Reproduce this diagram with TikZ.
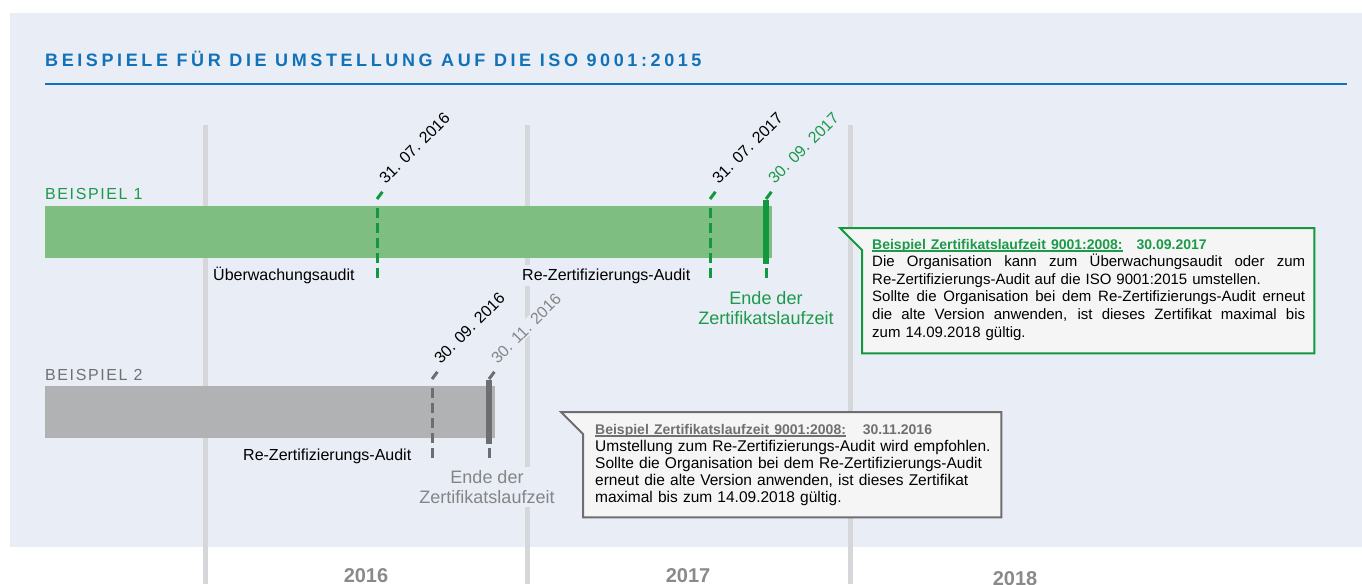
\documentclass[tikz,border=0pt]{standalone}
\usepackage{fontspec}
\setmainfont{Liberation Sans}
\newfontfamily\spacedfont[LetterSpace=10]{Liberation Sans}
\newfontfamily\titlefont[LetterSpace=20]{Liberation Sans}
\usetikzlibrary{calc}

\definecolor{panel}{HTML}{E9EDF6}
\definecolor{titleblue}{HTML}{1272B9}
\definecolor{yeargray}{HTML}{D6D7DB}
\definecolor{barone}{HTML}{7FBE81}
\definecolor{darkgreen}{HTML}{13983F}
\definecolor{textgreen}{HTML}{1C9A4A}
\definecolor{bartwo}{HTML}{B1B2B4}
\definecolor{darkgray}{HTML}{6E6E70}
\definecolor{textgray}{HTML}{707072}
\definecolor{lightgray}{HTML}{858587}
\definecolor{boxfill}{HTML}{F5F5F5}
\definecolor{yeartext}{HTML}{8A8A8C}

% underlined heading, justified line
\newcommand{\ulhead}[1]{\setbox0\hbox{#1}\rlap{\rule[-2.5pt]{\wd0}{1.3pt}}\box0}
\newcommand{\justline}[1]{\makebox[433pt][s]{\spaceskip=0pt\xspaceskip=0pt #1}}

\begin{document}
\begin{tikzpicture} [
    x=1pt, y=-1pt,
    yearline/.style  = { draw=yeargray, line width=5pt },
    barbox/.style    = { draw=none, minimum height=52pt, inner sep=0pt, anchor=north west },
    leader/.style    = { draw, line width=3pt, dash pattern=on 10pt off 5pt, shorten >=8pt },
    stub/.style      = { draw, line width=3pt, shorten >=6pt },
    endmark/.style   = { draw, line width=6pt },
    datelabel/.style = { rotate=45, anchor=south west, inner sep=1.5pt, fill=panel,
                         font=\fontsize{16}{16}\selectfont },
    tag/.style       = { anchor=base west, inner sep=3pt, fill=panel,
                         font=\fontsize{16}{16}\selectfont },
    ende/.style      = { align=center, inner sep=3pt, fill=panel,
                         font=\fontsize{18}{20}\selectfont },
    exlabel/.style   = { anchor=base west, inner sep=0pt, font=\spacedfont\fontsize{16}{16}\selectfont },
    boxframe/.style  = { draw=none, inner sep=0pt, anchor=north west },
    callout/.style   = { fill=boxfill, line width=2pt, line join=miter },
    calltext/.style  = { anchor=base west, inner sep=0pt, align=left, text width=440pt },
    yearlabel/.style = { anchor=base, text=yeartext, font=\bfseries\fontsize{20}{20}\selectfont },
  ]

  \useasboundingbox (0,0) rectangle (1362,584);
  \fill[panel] (10,13) rectangle (1362,547);

  % title
  \node[anchor=base west, inner sep=0pt, text=titleblue,
        font=\titlefont\bfseries\fontsize{18}{18}\selectfont] (title) at (45,66)
        {BEISPIELE FÜR DIE UMSTELLUNG AUF DIE ISO 9001:2015};
  \draw[titleblue, line width=2pt] (45,84) -- (1347,84);

  % year lines
  \foreach \x in {205,527,850}
    \path[yearline] (\x,125) -- (\x,584);

  % bars
  \node[barbox, fill=barone, minimum width=727pt] (bar1) at (45,206) {};
  \node[barbox, fill=bartwo, minimum width=450pt] (bar2) at (45,386) {};

  % marker points
  \coordinate (f1) at (377,278);  \coordinate (m1) at (377,199);
  \coordinate (f2) at (710,278);  \coordinate (m2) at (710,199);
  \coordinate (f3) at (766,278);  \coordinate (m3) at (766,199);
  \coordinate (f4) at (432,458);  \coordinate (m4) at (432,379);
  \coordinate (f5) at (489,458);  \coordinate (m5) at (489,379);

  % date nodes
  \node[datelabel] (d1) at ($(m1)+(9,-12)$) {31. 07. 2016};
  \node[datelabel] (d2) at ($(m2)+(9,-12)$) {31. 07. 2017};
  \node[datelabel, text=textgreen] (d3) at ($(m3)+(9,-12)$) {30. 09. 2017};
  \node[datelabel] (d4) at ($(m4)+(9,-12)$) {30. 09. 2016};
  \node[datelabel, text=lightgray] (d5) at ($(m5)+(9,-12)$) {30. 11. 2016};

  % connect the markers
  \path[leader, darkgreen] (f1) -- (m1);
  \path[leader, darkgreen] (f2) -- (m2);
  \path[leader, darkgreen] (f3) -- (m3);
  \path[leader, darkgray]  (f4) -- (m4);
  \path[leader, darkgray]  (f5) -- (m5);
  \path[stub, darkgreen] (m1) -- (d1.south west);
  \path[stub, darkgreen] (m2) -- (d2.south west);
  \path[stub, darkgreen] (m3) -- (d3.south west);
  \path[stub, darkgray]  (m4) -- (d4.south west);
  \path[stub, darkgray]  (m5) -- (d5.south west);
  \path[endmark, darkgreen] ($(m3)+(0,1)$) -- ($(m3)+(0,65)$);
  \path[endmark, darkgray]  ($(m5)+(0,1)$) -- ($(m5)+(0,65)$);

  % labels
  \node[exlabel, text=textgreen] (ex1) at (45,199) {BEISPIEL 1};
  \node[exlabel, text=textgray]  (ex2) at (45,380) {BEISPIEL 2};
  \node[tag] (ue1) at (210,280) {Überwachungsaudit};
  \node[tag] (re1) at (519,280) {Re-Zertifizierungs-Audit};
  \node[tag] (re2) at (240,460) {Re-Zertifizierungs-Audit};
  \node[ende, text=textgreen] (end1) at (766,308) {Ende der\\Zertifikatslaufzeit};
  \node[ende, text=lightgray] (end2) at (487,487) {Ende der\\Zertifikatslaufzeit};

  % callout 1
  \node[boxframe, minimum width=452pt, minimum height=125pt] (c1) at (862,228) {};
  \path[callout, draw=darkgreen] ($(c1.north west)+(-22,0)$) -- (c1.north east)
        -- (c1.south east) -- (c1.south west) -- ($(c1.north west)+(0,22)$) -- cycle;
  \node[calltext, font=\fontsize{15}{17.6}\selectfont] (t1) at ($(c1.north west)+(10,21)$) {%
    {\fontsize{14}{17.6}\selectfont\bfseries\color{textgreen}%
     \ulhead{Beispiel Zertifikatslaufzeit 9001:2008:}\hspace{1em}30.09.2017}\\
    \justline{Die Organisation kann zum Überwachungsaudit oder zum}\\
    Re-Zertifizierungs-Audit auf die ISO 9001:2015 umstellen.\\
    \justline{Sollte die Organisation bei dem Re-Zertifizierungs-Audit erneut}\\
    \justline{die alte Version anwenden, ist dieses Zertifikat maximal bis}\\
    zum 14.09.2018 gültig.};

  % callout 2
  \node[boxframe, minimum width=418pt, minimum height=105pt] (c2) at (583,412) {};
  \path[callout, draw=darkgray] ($(c2.north west)+(-22,0)$) -- (c2.north east)
        -- (c2.south east) -- (c2.south west) -- ($(c2.north west)+(0,22)$) -- cycle;
  \node[calltext, font=\fontsize{15.5}{17}\selectfont] (t2) at ($(c2.north west)+(12,22)$) {%
    {\fontsize{14}{17}\selectfont\bfseries\color{textgray}%
     \ulhead{Beispiel Zertifikatslaufzeit 9001:2008:}\hspace{1.2em}30.11.2016}\\
    Umstellung zum Re-Zertifizierungs-Audit wird empfohlen.\\
    Sollte die Organisation bei dem Re-Zertifizierungs-Audit\\
    erneut die alte Version anwenden, ist dieses Zertifikat\\
    maximal bis zum 14.09.2018 gültig.};

  % years
  \node[yearlabel] (y16) at (366,582) {2016};
  \node[yearlabel] (y17) at (688,582) {2017};
  \node[yearlabel] (y18) at (1015,585) {2018};
\end{tikzpicture}
\end{document}
